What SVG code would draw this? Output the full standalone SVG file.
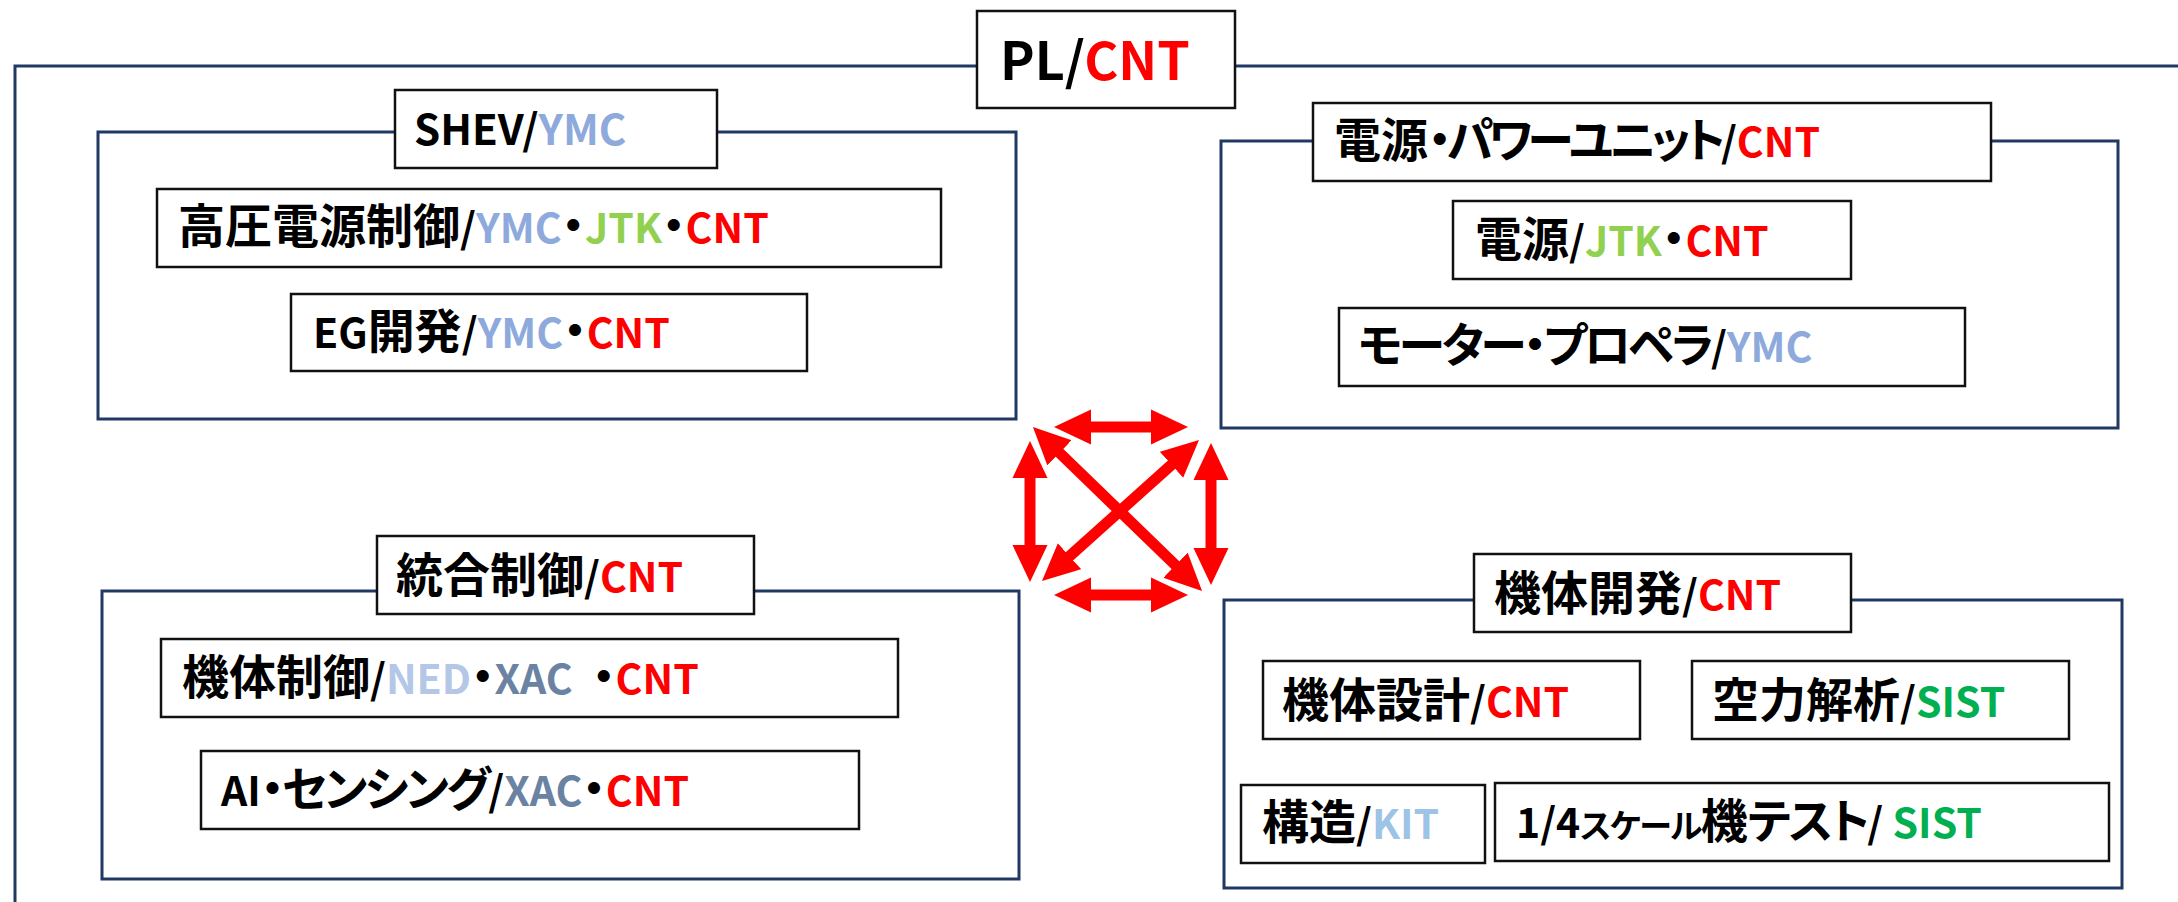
<svg xmlns="http://www.w3.org/2000/svg" width="2178" height="902" viewBox="0 0 2178 902">
  <style>
    text { font-family: "Noto Sans CJK JP", "Noto Sans", sans-serif; font-weight: 700; font-size: 47px; fill: #000; font-feature-settings: "palt"; }
    .l { font-size: 41px; }
    .s { font-size: 33px; }
    .frame { fill: none; stroke: #1F3864; stroke-width: 3; }
    .gframe { fill: #fff; stroke: #1F3864; stroke-width: 3; }
    .box { fill: #fff; stroke: #111; stroke-width: 2.5; }
    .cnt { fill: #FF0000; }
    .ymc { fill: #8EA9DB; }
    .jtk { fill: #92D050; }
    .ned { fill: #B4C7E7; }
    .xac { fill: #6B83A3; }
    .sist { fill: #00B050; }
    .kit { fill: #9DC3E6; }
    .arrow { stroke: #FF0000; stroke-width: 11; fill: none; marker-start: url(#head); marker-end: url(#head); }
  </style>
  <defs>
    <marker id="head" markerUnits="userSpaceOnUse" markerWidth="37" markerHeight="36" viewBox="-1 -18 37 36" refX="0" refY="0" orient="auto-start-reverse">
      <path d="M-1,-17.5 L36,0 L-1,17.5 Z" fill="#FF0000"/>
    </marker>
  </defs>
  <rect width="2178" height="902" fill="#fff"/>

  <g id="pl-frame">
    <path class="frame" d="M2185,66 H15 V910"/>
  </g>

  <g id="shev">
    <rect class="gframe" x="98" y="132" width="918" height="287"/>
    <rect class="box" x="395" y="90" width="322" height="78"/>
    <text x="414" y="145"><tspan class="l" style="font-size:42px">SHEV/</tspan><tspan class="l ymc" style="font-size:42px">YMC</tspan></text>
  </g>
  <g id="hv-power">
    <rect class="box" x="157" y="189" width="784" height="78"/>
    <text x="178" y="243">高圧電源制御<tspan class="l">/</tspan><tspan class="l ymc">YMC</tspan>・<tspan class="l jtk">JTK</tspan>・<tspan class="l cnt">CNT</tspan></text>
  </g>
  <g id="eg">
    <rect class="box" x="291" y="294" width="516" height="77"/>
    <text x="313" y="348"><tspan class="l">EG</tspan>開発<tspan class="l">/</tspan><tspan class="l ymc">YMC</tspan>・<tspan class="l cnt">CNT</tspan></text>
  </g>

  <g id="power-unit">
    <rect class="gframe" x="1221" y="141" width="897" height="287"/>
    <rect class="box" x="1313" y="103" width="678" height="78"/>
    <text x="1334" y="157">電源<tspan style="letter-spacing:-4.6px">・パワーユニット</tspan><tspan class="l">/</tspan><tspan class="l cnt">CNT</tspan></text>
  </g>
  <g id="power">
    <rect class="box" x="1453" y="201" width="398" height="78"/>
    <text x="1475" y="256">電源<tspan class="l">/</tspan><tspan class="l jtk">JTK</tspan>・<tspan class="l cnt">CNT</tspan></text>
  </g>
  <g id="motor">
    <rect class="box" x="1339" y="308" width="626" height="78"/>
    <text x="1358" y="362"><tspan style="letter-spacing:-3.3px">モーター・プロペラ</tspan><tspan class="l">/</tspan><tspan class="l ymc">YMC</tspan></text>
  </g>

  <g id="integrated">
    <rect class="gframe" x="102" y="591" width="917" height="288"/>
    <rect class="box" x="377" y="536" width="377" height="78"/>
    <text x="396" y="592">統合制御<tspan class="l">/</tspan><tspan class="l cnt">CNT</tspan></text>
  </g>
  <g id="flight-control">
    <rect class="box" x="161" y="639" width="737" height="78"/>
    <text x="182" y="694">機体制御<tspan class="l">/</tspan><tspan class="l ned">NED</tspan>・<tspan class="l xac">XAC</tspan><tspan class="l" dx="10"> </tspan>・<tspan class="l cnt">CNT</tspan></text>
  </g>
  <g id="ai-sensing">
    <rect class="box" x="201" y="751" width="658" height="78"/>
    <text x="221" y="806"><tspan class="l">AI</tspan><tspan style="letter-spacing:-2.5px">・センシング</tspan><tspan class="l">/</tspan><tspan class="l xac">XAC</tspan>・<tspan class="l cnt">CNT</tspan></text>
  </g>

  <g id="airframe">
    <rect class="gframe" x="1224" y="600" width="898" height="288"/>
    <rect class="box" x="1474" y="554" width="377" height="78"/>
    <text x="1494" y="610">機体開発<tspan class="l">/</tspan><tspan class="l cnt">CNT</tspan></text>
  </g>
  <g id="airframe-design">
    <rect class="box" x="1263" y="661" width="377" height="78"/>
    <text x="1282" y="717">機体設計<tspan class="l">/</tspan><tspan class="l cnt">CNT</tspan></text>
  </g>
  <g id="aero">
    <rect class="box" x="1692" y="661" width="377" height="78"/>
    <text x="1712" y="717">空力解析<tspan class="l">/</tspan><tspan class="l sist">SIST</tspan></text>
  </g>
  <g id="structure">
    <rect class="box" x="1241" y="785" width="244" height="78"/>
    <text x="1262" y="839">構造<tspan class="l">/</tspan><tspan class="l kit">KIT</tspan></text>
  </g>
  <g id="scale-test">
    <rect class="box" x="1495" y="783" width="614" height="78"/>
    <text x="1516" y="838"><tspan class="l">1/4</tspan><tspan class="s" style="letter-spacing:-1.5px">スケール</tspan>機<tspan style="letter-spacing:-2.5px">テスト</tspan><tspan class="l">/ </tspan><tspan class="l sist">SIST</tspan></text>
  </g>

  <g id="pl">
    <rect class="box" x="977" y="11" width="258" height="97"/>
    <text x="1000" y="80" style="font-size:52px">PL/<tspan class="cnt">CNT</tspan></text>
  </g>

  <g id="connectors">
    <line class="arrow" x1="1090" y1="427" x2="1152" y2="427"/>
    <line class="arrow" x1="1090" y1="595" x2="1152" y2="595"/>
    <line class="arrow" x1="1030" y1="477" x2="1030" y2="546"/>
    <line class="arrow" x1="1211" y1="479" x2="1211" y2="549"/>
    <line class="arrow" x1="1058.8" y1="452.1" x2="1176.2" y2="565.9"/>
    <line class="arrow" x1="1068.8" y1="556.9" x2="1172.2" y2="464.1"/>
  </g>
</svg>
